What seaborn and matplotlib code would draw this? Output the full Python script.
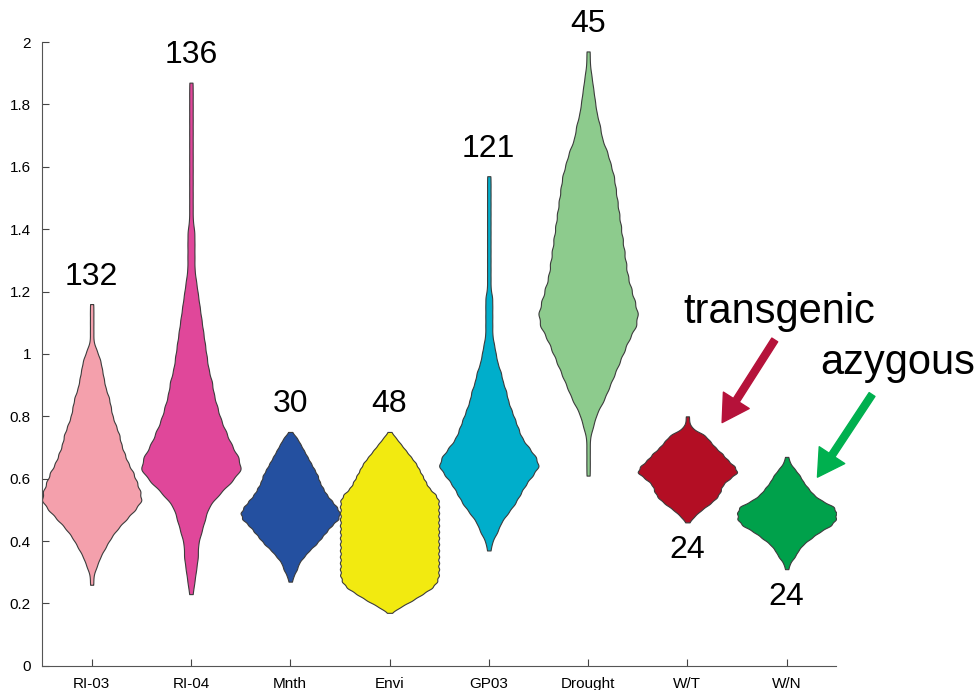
import matplotlib
matplotlib.use('Agg')
import matplotlib.pyplot as plt
from matplotlib.ticker import FuncFormatter
import numpy as np
import seaborn as sns

groups = ['RI-03', 'RI-04', 'Mnth', 'Envi', 'GP03', 'Drought', 'W/T', 'W/N']
n_obs = [132, 136, 30, 48, 121, 45, 24, 24]
colors = ['#f4a0ac', '#e0479a', '#2450a0', '#f2ea10',
          '#00aecb', '#8dcb8d', '#b30e24', '#00a14b']
# count label above or below the violin
label_side = ['top', 'top', 'top', 'top', 'top', 'top', 'bottom', 'bottom']

# distributions read off the picture as histograms:
# first bin centre, bin step and relative counts per bin
bin_start = [0.26, 0.23, 0.27, 0.17, 0.37, 0.61, 0.46, 0.31]
bin_step = [0.03, 0.04, 0.02, 0.02, 0.03, 0.04, 0.02, 0.02]

ri03 = [1, 1, 3, 5, 8, 11, 15, 20, 25, 29, 28, 26, 24, 21, 19, 17, 16, 14,
        12, 11, 10, 8, 7, 6, 5, 3, 1, 1, 1, 1, 1]
ri04 = [1, 2, 3, 4, 4, 6, 8, 10, 16, 23, 29, 27, 23, 20, 17, 15, 13, 12, 10,
        9, 8, 7, 6, 5, 4, 3, 2, 2, 2, 2, 1, 1, 1, 1, 1, 1, 1, 1, 1, 1, 1, 1]
mnth = [1, 2, 4, 5, 8, 11, 15, 18, 21, 24, 28, 29, 27, 24, 21, 19, 17, 16,
        14, 12, 10, 8, 6, 4, 1]
envi = [1, 7, 14, 20, 26, 29] + [30] * 13 + [28, 24, 22, 20, 18, 16, 13, 10,
                                            7, 4, 1]
gp03 = [1, 2, 5, 7, 11, 15, 18, 21, 25, 29, 27, 23, 19, 17, 15, 13, 11, 10,
        8, 7, 5, 4, 3, 2, 2, 2, 2, 2, 1] + [1] * 12
drought = [1, 1, 1, 1, 3, 5, 9, 12, 15, 18, 21, 24, 28, 29, 27, 25, 23, 22,
           21, 20, 19, 18, 17, 16, 15, 13, 11, 8, 7, 5, 4, 3, 2, 1, 1]
wt = [1, 4, 8, 13, 17, 19, 20, 24, 29, 27, 23, 20, 16, 13, 10, 3, 1, 1]
wn = [1, 2, 5, 7, 10, 15, 20, 27, 30, 30, 29, 21, 16, 13, 10, 8, 5, 2, 1]
hist_counts = [ri03, ri04, mnth, envi, gp03, drought, wt, wn]

sns.set_style('ticks')
plt.rcParams['font.family'] = ['Liberation Sans', 'DejaVu Sans']
plt.rcParams['text.color'] = 'black'

fig = plt.figure(figsize=(9.77, 6.9), dpi=100)
ax = fig.add_axes([0.043, 0.035, 0.813, 0.904])

for i, name in enumerate(groups):
    levels = bin_start[i] + bin_step[i] * np.arange(len(hist_counts[i]))
    values = np.repeat(levels, hist_counts[i])
    # narrow kernel so the stepped histogram look survives
    bw = 0.52 * bin_step[i] / values.std(ddof=1)
    sns.violinplot(x=[name] * len(values), y=values, order=groups,
                   color=colors[i], saturation=1, cut=0, bw_method=bw,
                   gridsize=400, width=1.0, density_norm='width', inner=None,
                   linewidth=0.8, linecolor='#3c3c3c', ax=ax)
    if label_side[i] == 'top':
        ax.text(i, values.max() + 0.04, str(n_obs[i]), ha='center',
                va='bottom', fontsize=23, color='black')
    else:
        ax.text(i, values.min() - 0.04, str(n_obs[i]), ha='center',
                va='top', fontsize=23, color='black')

# arrows pointing at the two last groups
arrow = 'simple,head_length=1.9,head_width=2.2,tail_width=0.5'
ax.annotate('', xy=(6.35, 0.78), xytext=(6.88, 1.045),
            arrowprops=dict(arrowstyle=arrow, mutation_scale=10,
                            color='#b5123a', shrinkA=0, shrinkB=0))
ax.annotate('', xy=(7.31, 0.605), xytext=(7.86, 0.87),
            arrowprops=dict(arrowstyle=arrow, mutation_scale=10,
                            color='#00b04f', shrinkA=0, shrinkB=0),
            annotation_clip=False)
ax.text(6.93, 1.10, 'transgenic', ha='center', va='baseline', fontsize=30,
        color='black')
ax.text(8.12, 0.935, 'azygous', ha='center', va='baseline', fontsize=30,
        color='black')

ax.set_xlim(-0.5, 7.5)
ax.set_ylim(0, 2)
ax.set_yticks(np.arange(0, 2.01, 0.2))
ax.yaxis.set_major_formatter(FuncFormatter(lambda v, p: f'{v:g}'))
ax.set(xlabel='', ylabel='')
ax.tick_params(direction='in', length=5, width=0.8, color='#444444',
               labelsize=11, labelcolor='black', pad=8)
sns.despine(ax=ax)
for side in ['left', 'bottom']:
    ax.spines[side].set_color('#555555')
    ax.spines[side].set_linewidth(0.8)

fig.savefig('out.png', dpi=100)
